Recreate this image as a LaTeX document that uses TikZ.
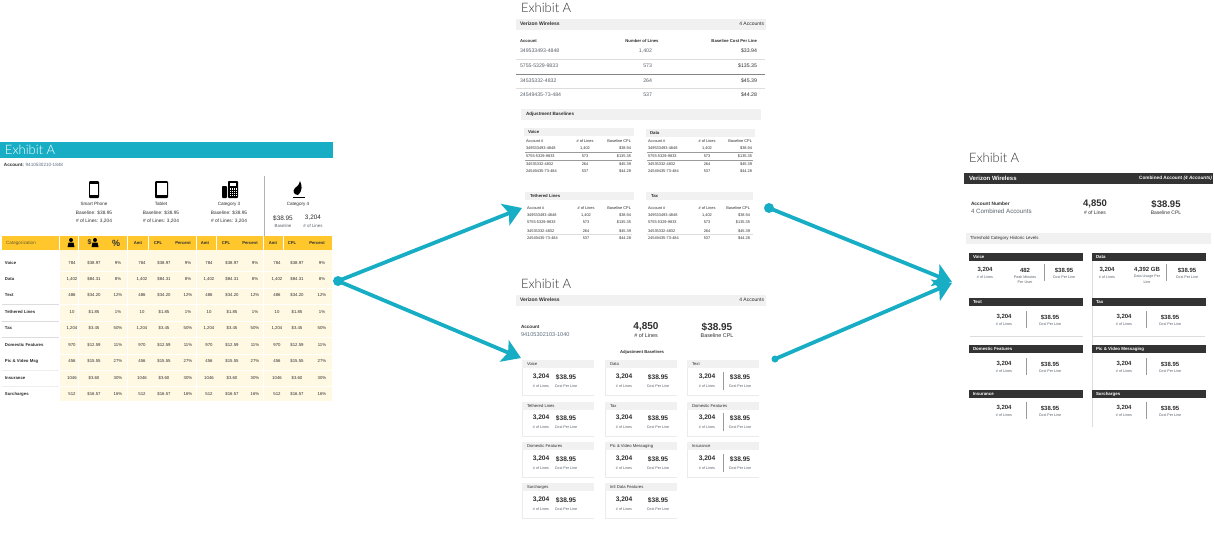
\documentclass[tikz,border=0pt]{standalone}
\usepackage{fontspec}
\setmainfont{Liberation Sans}
\newfontfamily\thinf{Lato Light}
\usetikzlibrary{arrows.meta}
\definecolor{teal1}{HTML}{17AEC5}
\definecolor{yel}{HTML}{FFC72C}
\definecolor{cream}{HTML}{FFF8E3}
\definecolor{band}{HTML}{F1F1F1}
\definecolor{dark}{HTML}{333333}
\definecolor{ink}{HTML}{2E2E2E}
\definecolor{soft}{HTML}{5A626B}
\definecolor{rule}{HTML}{DDDDDD}
\definecolor{blu}{HTML}{5E6E80}
\newcounter{tn}
\newcommand{\fz}[1]{\fontsize{#1}{#1}\selectfont}
\newcommand{\tx}[5]{\stepcounter{tn}\node[txt,anchor=#3,font=#4] (t\arabic{tn}) at (#1,#2) {#5};}
\newcommand{\bfz}[1]{\fz{#1}\bfseries}
\tikzset{
 txt/.style={inner sep=0pt,outer sep=0pt,text=ink},
 flow/.style={draw=teal1,line width=3.8pt,-{Stealth[length=18pt,width=23pt,inset=4pt]}},
 dot/.style={circle,fill=teal1,inner sep=0pt,minimum size=#1},
 hair/.style={draw=rule,line width=0.9pt},
 vrule/.style={draw=rule!80!black,line width=0.9pt},
 iconk/.style={fill=black,draw=none},
}
\begin{document}
\begin{tikzpicture}[x=1pt,y=-1pt]
\useasboundingbox (0,0) rectangle (1214,544);
\fill[white] (0,0) rectangle (1214,544);

% ===== LEFT PANEL =====
\fill[teal1] (0,142) rectangle (333,158);
\tx{5}{150}{west}{\thinf\fz{13}}{\textcolor{white}{Exhibit A}}
\tx{4}{165}{west}{\bfz{4.6}}{Account: \textmd{\textcolor{blu}{9410530210-1848}}}
\draw[vrule] (264,176) -- (264,236);
% icons
\fill[black,rounded corners=1pt] (89,181) rectangle (99,198);
\fill[white] (90.3,184) rectangle (97.7,195);
\fill[black,rounded corners=1pt] (155,181) rectangle (168,198);
\fill[white] (156.5,183) rectangle (166.5,195);
\fill[black,rounded corners=0.8pt] (222,186) rectangle (227,198);
\fill[black,rounded corners=0.8pt] (228,181) rectangle (238,198);
\fill[white] (230,183) rectangle (236,186);
\fill[white] (229.5,188) rectangle (236.5,196);
\foreach \a in {231.2,233,234.8}{\draw[black,line width=.5pt] (\a,188) -- (\a,196);}
\foreach \b in {190,192,194}{\draw[black,line width=.5pt] (229.5,\b) -- (236.5,\b);}
\fill[black] (300,181) .. controls (302,186) and (303,190) .. (298,195) .. controls (294,195) and (292,191) .. (295,188) .. controls (297,187) and (299,185) .. (300,181) -- cycle;
\draw[black,line width=1pt] (293,197.5) -- (305,197.5);
% labels
\foreach \x/\n in {94/Smart Phone,161/Tablet,229/Category 3}{
 \tx{\x}{204}{center}{\fz{4.6}}{\n}
 \tx{\x}{213}{center}{\fz{4.8}}{Baseline: \$38.95}
 \tx{\x}{221}{center}{\fz{4.8}}{\# of Lines: 3,204}
}
\tx{298}{204}{center}{\fz{4.6}}{Category 4}
\tx{283}{218}{center}{\fz{6.4}}{\$38.95}
\tx{313}{218}{center}{\fz{6.4}}{3,204}
\tx{283}{226}{center}{\fz{4.4}}{\textcolor{soft}{Baseline}}
\tx{313}{226}{center}{\fz{4.4}}{\textcolor{soft}{\# of Lines}}
% header band
\fill[yel] (2,236) rectangle (332,250);
\foreach \a in {59.5,78,127.5,148.5,196.5,216,263.5,283}{\draw[white,line width=1pt] (\a,236) -- (\a,250);}
\tx{21}{243}{center}{\fz{4.6}}{\textcolor{ink!70!yel}{Categorization}}
\foreach \x/\l in {138/Amt,158/CPL,183/Percent,205/Amt,226/CPL,250/Percent,273/Amt,292/CPL,317/Percent}{
 \tx{\x}{243}{center}{\bfz{4.2}}{\l}
}
% header icons
\fill[iconk] (71,240) circle (2);
\fill[iconk] (67.5,247) -- (68.5,242.5) -- (73.5,242.5) -- (74.5,247) -- cycle;
\fill[iconk] (95,240) circle (2);
\fill[iconk] (91.5,247) -- (92.5,242.5) -- (97.5,242.5) -- (98.5,247) -- cycle;
\tx{89.5}{242.5}{center}{\bfz{7}}{\$}
\tx{116}{243}{center}{\bfz{9}}{\%}
% body
\fill[cream] (60,250) rectangle (332,401);
\foreach \a in {78,127.5,196.5,263.5}{\draw[white,line width=1pt] (\a,250) -- (\a,401);}
\foreach \b in {271,288,304,321,337,354,370,386}{\draw[white,line width=1pt] (60,\b) -- (332,\b);}
\draw[rule,line width=1pt] (2,304) -- (59,304) (2,321) -- (59,321) (2,337) -- (59,337);
\draw[rule!50!white,line width=.8pt] (2,370) -- (59,370) (2,386) -- (59,386);
\foreach \y/\n in {263/Voice,279/Data,295/Text,312/Tethered Lines,328/Tax,345/Domestic Features,361/Pic \& Video Msg,378/Insurance,394/Surcharges}{
 \tx{5}{\y}{west}{\bfz{4.3}}{\n}
}
\foreach \y/\p/\q/\r in {263/784/\$38.97/9\%,279/{1,402}/\$84.31/8\%,295/486/\$34.20/12\%,312/10/\$1.85/1\%,328/{1,204}/\$3.45/50\%,345/970/\$12.59/11\%,361/456/\$15.55/27\%,378/1046/\$3.60/30\%,394/512/\$16.57/16\%}{
 \foreach \xa/\xb/\xc in {72/94/118,142/164/188,209/232/255,277/297/322}{
  \tx{\xa}{\y}{center}{\fz{4.3}}{\p}
  \tx{\xb}{\y}{center}{\fz{4.3}}{\q}
  \tx{\xc}{\y}{center}{\fz{4.3}}{\r}
 }
}

% ===== MIDDLE TOP =====
\tx{521}{8}{west}{\thinf\fz{13}}{\textcolor{dark}{Exhibit A}}
\fill[band] (516,19) rectangle (766,30);
\tx{520}{24}{west}{\bfz{5}}{Verizon Wireless}
\tx{764}{24}{east}{\fz{5}}{4 Accounts}
\tx{520}{41}{west}{\bfz{4.2}}{Account}
\tx{642}{41}{center}{\bfz{4.2}}{Number of Lines}
\tx{757}{41}{east}{\bfz{4.2}}{Baseline Cost Per Line}
\foreach \y/\a/\b/\c in {51/{349533493-4848}/{1,402}/\$33.94,66/{5755-5329-9833}/573/\$135.35,81/{34535332-4832}/264/\$45.39,95/{24549435-73-484}/537/\$44.28}{
 \tx{520}{\y}{west}{\fz{5.2}}{\textcolor{soft}{\a}}
 \tx{652}{\y}{east}{\fz{5.2}}{\textcolor{soft}{\b}}
 \tx{757}{\y}{east}{\fz{5.2}}{\c}
}
\draw[rule,line width=.9pt] (516,59.5) -- (765,59.5);
\draw[rule!60!black,line width=.9pt] (516,74) -- (765,74);
\draw[rule,line width=.9pt] (516,88) -- (765,88);
\fill[band] (521,109) rectangle (761,120);
\tx{526}{114}{west}{\bfz{4.6}}{Adjustment Baselines}
\foreach \xl/\xr/\xt/\yt/\ytt/\n/\ya/\yb/\yc/\yd/\ye in {
 524/634/528/128/131.5/Voice/141/148/156/164/171,
 646/755/650/129/133/Data/141/148/156/164/171,
 525/634/530/192/196/Tethered Lines/208/215/222/231/238,
 646/753/651/192/196/Tax/208/215/222/231/238}{
 \fill[band] (\xl,\yt) rectangle (\xr,\yt+8);
 \tx{\xt}{\ytt}{west}{\bfz{4.3}}{\n}
 \pgfmathsetmacro{\xa}{\xl+2}\pgfmathsetmacro{\xb}{\xl+61}\pgfmathsetmacro{\xc}{\xr-3}
 \tx{\xa}{\ya}{west}{\fz{3.9}}{Account \#}
 \tx{\xb}{\ya}{center}{\fz{3.9}}{\# of Lines}
 \tx{\xc}{\ya}{east}{\fz{3.9}}{Baseline CPL}
 \tx{\xa}{\yb}{west}{\fz{3.9}}{349533493-4848}
 \tx{\xb}{\yb}{center}{\fz{3.9}}{1,402}
 \tx{\xc}{\yb}{east}{\fz{3.9}}{\$38.94}
 \tx{\xa}{\yc}{west}{\fz{3.9}}{5755-5329-9833}
 \tx{\xb}{\yc}{center}{\fz{3.9}}{573}
 \tx{\xc}{\yc}{east}{\fz{3.9}}{\$135.35}
 \tx{\xa}{\yd}{west}{\fz{3.9}}{34535332-4832}
 \tx{\xb}{\yd}{center}{\fz{3.9}}{264}
 \tx{\xc}{\yd}{east}{\fz{3.9}}{\$45.39}
 \tx{\xa}{\ye}{west}{\fz{3.9}}{24549435-73-484}
 \tx{\xb}{\ye}{center}{\fz{3.9}}{537}
 \tx{\xc}{\ye}{east}{\fz{3.9}}{\$44.28}
}
\draw[rule!70!black,line width=.8pt] (525,152.5) -- (632,152.5) (525,160) -- (632,160) (647,152.5) -- (753,152.5) (647,160) -- (753,160);
\draw[rule,line width=.6pt] (526,234.5) -- (632,234.5) (647,234.5) -- (753,234.5);

% ===== MIDDLE BOTTOM =====
\tx{521}{283.5}{west}{\thinf\fz{13}}{\textcolor{dark}{Exhibit A}}
\fill[band] (516,295) rectangle (766,306);
\tx{520}{300}{west}{\bfz{5}}{Verizon Wireless}
\tx{764}{300}{east}{\fz{5}}{4 Accounts}
\tx{521}{327}{west}{\bfz{4.6}}{Account}
\tx{521}{335}{west}{\fz{5.6}}{\textcolor{blu}{94105302103-1040}}
\tx{646}{327}{center}{\bfz{10}}{4,850}
\tx{646}{336}{center}{\fz{5.4}}{\# of Lines}
\tx{717}{327}{center}{\bfz{10}}{\$38.95}
\tx{717}{336}{center}{\fz{5.4}}{Baseline CPL}
\tx{642}{352}{center}{\bfz{4.2}}{Adjustment Baselines}
\foreach \xl/\xa/\xb/\yt/\vy/\ly/\yb/\n in {
 522/541/566/360/377/386/395/Voice,
 605/624/658/360/377/386/395/Data,
 687/707/740/360/377/386/395/Text,
 522/541/566/402/418/427/436/Tethered Lines,
 605/624/658/402/418/427/436/Tax,
 687/707/740/402/418/427/436/Domestic Features,
 522/541/566/442/459/468/477/Domestic Features,
 605/624/658/442/459/468/477/Pic \& Video Messaging,
 687/707/740/442/459/468/477/Insurance,
 522/541/566/483/500/509/518/Surcharges,
 605/624/658/483/500/509/518/Intl Data Features}{
 \fill[band] (\xl,\yt) rectangle (\xl+72,\yt+8);
 \draw[rule!60!white,line width=.7pt] (\xl+.4,\yt+8) -- (\xl+.4,\yb) -- (\xl+72,\yb);
 \pgfmathsetmacro{\xt}{\xl+5}
 \tx{\xt}{\yt+4}{west}{\fz{4.2}}{\n}
 \tx{\xa}{\vy}{center}{\bfz{6.6}}{3,204}
 \tx{\xb}{\vy}{center}{\bfz{6.6}}{\$38.95}
 \tx{\xa}{\ly}{center}{\fz{3.7}}{\textcolor{soft}{\# of Lines}}
 \tx{\xb}{\ly}{center}{\fz{3.7}}{\textcolor{soft}{Cost Per Line}}
}
\draw[rule!70!black,line width=.8pt] (723,372) -- (723,390) (723,413) -- (723,431) (723,454) -- (723,472);

% ===== RIGHT =====
\tx{969}{158}{west}{\thinf\fz{13}}{\textcolor{dark}{Exhibit A}}
\fill[dark] (964,173) rectangle (1213,184);
\tx{969}{178.5}{west}{\bfz{6}}{\textcolor{white}{Verizon Wireless}}
\tx{1212}{178.5}{east}{\bfz{4.7}}{\textcolor{white}{Combined Account \textit{(4 Accounts)}}}
\tx{971}{204}{west}{\bfz{4.8}}{Account Number}
\tx{971}{211.5}{west}{\fz{6.2}}{\textcolor{soft}{4 Combined Accounts}}
\tx{1095}{204}{center}{\bfz{9.5}}{4,850}
\tx{1095}{213}{center}{\fz{5}}{\# of Lines}
\tx{1166}{204}{center}{\bfz{9.5}}{\$38.95}
\tx{1166}{213}{center}{\fz{5}}{Baseline CPL}
\fill[band] (966,233) rectangle (1211,244);
\tx{970}{238.5}{west}{\fz{4.4}}{Threshold Category Historic Levels}
\foreach \xl/\yt/\n in {969/253/Voice,1092/253/Data,969/298/Text,1092/298/Tax,969/345/Domestic Features,1092/345/Pic \& Video Messaging,969/390/Insurance,1092/390/Surcharges}{
 \fill[dark] (\xl,\yt) rectangle (\xl+114,\yt+8);
 \pgfmathsetmacro{\xt}{\xl+4}
 \tx{\xt}{\yt+4}{west}{\bfz{4.4}}{\textcolor{white}{\n}}
}
\draw[rule,line width=.8pt] (1092.4,261) -- (1092.4,298) (1092.4,306) -- (1092.4,345) (1092.4,353) -- (1092.4,390) (1092.4,398) -- (1092.4,427);
\draw[rule,line width=.8pt] (970,336) -- (1083,336) (1093,336) -- (1205,336);
% voice + data cards
\foreach \xa/\xb/\xc/\xd/\v/\l/\m in {985/1025/1044/1064/482/Peak Minutes/Per User,1107/1147/1166/1187/{4,392 GB}/Data Usage Per/Line}{
 \tx{\xa}{270}{center}{\bfz{6}}{3,204}
 \tx{\xb}{270}{center}{\bfz{6}}{\v}
 \tx{\xd}{270}{center}{\bfz{6}}{\$38.95}
 \tx{\xa}{277}{center}{\fz{3.7}}{\textcolor{soft}{\# of Lines}}
 \tx{\xb}{277}{center}{\fz{3.7}}{\textcolor{soft}{\l}}
 \tx{\xb}{282}{center}{\fz{3.7}}{\textcolor{soft}{\m}}
 \tx{\xd}{277}{center}{\fz{3.7}}{\textcolor{soft}{Cost Per Line}}
 \draw[rule!70!black,line width=.8pt] (\xc,264) -- (\xc,281);
}
\foreach \xa/\xc/\xd in {1004/1026/1050,1124/1146/1170}{
 \foreach \y in {317,364,408}{
  \tx{\xa}{\y}{center}{\bfz{6}}{3,204}
  \tx{\xd}{\y}{center}{\bfz{6}}{\$38.95}
  \tx{\xa}{\y+7}{center}{\fz{3.7}}{\textcolor{soft}{\# of Lines}}
  \tx{\xd}{\y+7}{center}{\fz{3.7}}{\textcolor{soft}{Cost Per Line}}
  \draw[rule!70!black,line width=.8pt] (\xc,\y-6) -- (\xc,\y+11);
 }
}

% ===== CONNECTORS =====
\node[dot=10pt] (d1) at (338,281) {};
\node[dot=10pt] (d2) at (769,208) {};
\node[dot=7pt] (d3) at (775,359) {};
\coordinate (e1) at (522,208);
\coordinate (e2) at (521,358);
\coordinate (e3) at (952,282);
\coordinate (e4) at (952,283);
\draw[flow] (d1.center) -- (e1);
\draw[flow] (d1.center) -- (e2);
\draw[flow] (d2.center) -- (e3);
\draw[flow] (d3.center) -- (e4);
\end{tikzpicture}
\end{document}
